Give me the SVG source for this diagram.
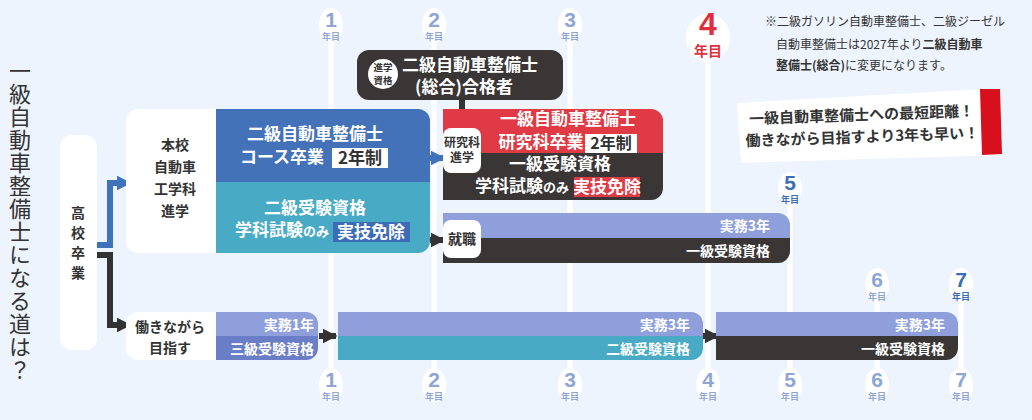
<svg xmlns="http://www.w3.org/2000/svg" width="1032" height="420" viewBox="0 0 1032 420">
<style>
text{font-family:"Noto Sans CJK JP","Noto Sans",sans-serif;font-weight:bold}
.w{fill:#fff}.d{fill:#333}
.yl{stroke:#fff;stroke-width:5}
.yn{font-size:21px;fill:#8ea6d6;text-anchor:middle;font-family:"Liberation Sans",sans-serif}
.ym{font-size:9px;fill:#8ea6d6;text-anchor:middle}
.m{font-size:17px;fill:#fff;text-anchor:middle}
.s{font-size:14px;fill:#fff;text-anchor:end}
.v{writing-mode:vertical-rl;text-orientation:upright}
</style>
<defs>
<marker id="ab" viewBox="0 0 10 10" refX="9" refY="5" markerWidth="2.5" markerHeight="2.5" orient="auto"><path d="M0,0L10,5L0,10z" fill="#3f72bb"/></marker>
<marker id="ad" viewBox="0 0 10 10" refX="9" refY="5" markerWidth="2.5" markerHeight="2.5" orient="auto"><path d="M0,0L10,5L0,10z" fill="#333"/></marker>
</defs>
<rect width="1032" height="420" fill="#eef4fd"/>
<text class="v" x="20" y="60" style="font-size:22px;font-weight:normal;letter-spacing:1px" fill="#333">一級自動車整備士になる道は？</text>
<g id="years">
<line class="yl" x1="331" y1="30" x2="331" y2="380"/><line class="yl" x1="434" y1="30" x2="434" y2="380"/><line class="yl" x1="570" y1="30" x2="570" y2="380"/><line class="yl" x1="708" y1="50" x2="708" y2="380"/><line class="yl" x1="790" y1="195" x2="790" y2="380"/><line class="yl" x1="877" y1="295" x2="877" y2="380"/><line class="yl" x1="961" y1="295" x2="961" y2="380"/>
<g fill="#fff"><ellipse cx="331" cy="25" rx="12" ry="17"/><ellipse cx="434" cy="25" rx="12" ry="17"/><ellipse cx="570" cy="25" rx="12" ry="17"/><ellipse cx="708" cy="38" rx="22" ry="24"/><ellipse cx="790" cy="188" rx="12" ry="16"/><ellipse cx="877" cy="285" rx="12" ry="17"/><ellipse cx="961" cy="285" rx="12" ry="17"/>
<ellipse cx="331" cy="385" rx="12" ry="17"/><ellipse cx="434" cy="385" rx="12" ry="17"/><ellipse cx="570" cy="385" rx="12" ry="17"/><ellipse cx="708" cy="385" rx="12" ry="17"/><ellipse cx="790" cy="385" rx="12" ry="17"/><ellipse cx="877" cy="385" rx="12" ry="17"/><ellipse cx="961" cy="385" rx="12" ry="17"/></g>
<text class="yn" x="331" y="27">1</text><text class="ym" x="331" y="40">年目</text>
<text class="yn" x="434" y="27">2</text><text class="ym" x="434" y="40">年目</text>
<text class="yn" x="570" y="27">3</text><text class="ym" x="570" y="40">年目</text>
<text class="yn" x="708" y="35" style="font-size:32px;fill:#e0303c">4</text><text class="ym" x="708" y="56" style="font-size:14px;fill:#e0303c">年目</text>
<text class="yn" x="790" y="190" style="fill:#3a6cb8">5</text><text class="ym" x="790" y="203" style="fill:#3a6cb8">年目</text>
<text class="yn" x="877" y="287">6</text><text class="ym" x="877" y="300">年目</text>
<text class="yn" x="961" y="287" style="fill:#3a6cb8">7</text><text class="ym" x="961" y="300" style="fill:#3a6cb8">年目</text>
<text class="yn" x="331" y="387">1</text><text class="ym" x="331" y="400">年目</text>
<text class="yn" x="434" y="387">2</text><text class="ym" x="434" y="400">年目</text>
<text class="yn" x="570" y="387">3</text><text class="ym" x="570" y="400">年目</text>
<text class="yn" x="708" y="387">4</text><text class="ym" x="708" y="400">年目</text>
<text class="yn" x="790" y="387">5</text><text class="ym" x="790" y="400">年目</text>
<text class="yn" x="877" y="387">6</text><text class="ym" x="877" y="400">年目</text>
<text class="yn" x="961" y="387">7</text><text class="ym" x="961" y="400">年目</text>
</g>
<g id="note" style="font-size:12px" fill="#333"><text x="765" y="26" style="font-weight:normal">※二級ガソリン自動車整備士、二級ジーゼル</text><text x="776" y="49" style="font-weight:normal">自動車整備士は2027年より<tspan font-weight="bold">二級自動車</tspan></text><text x="776" y="70">整備士(総合)<tspan font-weight="normal">に変更になります。</tspan></text></g>
<g id="banner"><path d="M737,103 L985,89 L1000,155 L741,163 Z" fill="#fff"/><path d="M980,89 L1000,89 L1002,154 L982,155 Z" fill="#d8101e"/>
<g transform="rotate(-2 868 128)"><text x="862" y="120" text-anchor="middle" font-size="15" fill="#333">一級自動車整備士への最短距離！</text><text x="862" y="142" text-anchor="middle" font-size="15" fill="#333">働きながら目指すより3年も早い！</text></g></g>
<g id="connectors" fill="none" stroke-width="6">
<path d="M97,245 H110 V183 H130" stroke="#3f72bb" marker-end="url(#ab)"/>
<path d="M97,255 H110 V325 H130" stroke="#333" marker-end="url(#ad)"/>
<path d="M430,158 H444" stroke="#3f72bb" marker-end="url(#ab)"/>
<path d="M430,240 H444" stroke="#333" marker-end="url(#ad)"/>
<path d="M462,100 V122" stroke="#333" marker-end="url(#ad)"/>
<path d="M319,336 H336" stroke="#333" marker-end="url(#ad)"/>
<path d="M703,336 H718" stroke="#333" marker-end="url(#ad)"/>
</g>
<g id="hs"><rect x="60" y="135" width="37" height="215" rx="12" fill="#fff"/><g font-size="14" text-anchor="middle" fill="#333"><text x="78" y="218">高</text><text x="78" y="238">校</text><text x="78" y="258">卒</text><text x="78" y="278">業</text></g></g>
<g id="honko">
<rect x="126" y="109" width="304" height="144" rx="12" fill="#fff"/>
<path d="M216,109 H418 a12,12 0 0 1 12,12 V182 H216Z" fill="#4472b8"/>
<path d="M216,182 H430 V241 a12,12 0 0 1 -12,12 H216Z" fill="#48aac4"/>
<g class="d" font-size="14" text-anchor="middle"><text x="175" y="150">本校</text><text x="175" y="172">自動車</text><text x="175" y="194">工学科</text><text x="175" y="216">進学</text></g>
<text class="m" x="315" y="140">二級自動車整備士</text>
<text class="m" x="282" y="163">コース卒業</text><rect x="332" y="148" width="56" height="20" fill="#fff"/><text x="360" y="164" class="m" style="fill:#333">2年制</text>
<text class="m" x="315" y="214">二級受験資格</text>
<text class="m" x="282" y="236">学科試験<tspan font-size="13">のみ</tspan></text><rect x="333" y="222" width="77" height="20" fill="#3c6cb8"/><text class="m" x="371" y="238">実技免除</text>
</g>
<g id="sougou"><rect x="357" y="50" width="206" height="50" rx="12" fill="#3a3636"/><circle cx="383" cy="74" r="15" fill="#fff"/><text x="383" y="71" font-size="9.5" text-anchor="middle" class="d">進学</text><text x="383" y="84" font-size="9.5" text-anchor="middle" class="d">資格</text>
<text class="m" x="470" y="71">二級自動車整備士</text><text class="m" x="464" y="93">(総合)合格者</text></g>
<g id="kenkyu">
<path d="M443,109 H651 a12,12 0 0 1 12,12 V153 H443Z" fill="#e03a45"/>
<path d="M443,153 H663 V188 a12,12 0 0 1 -12,12 H443Z" fill="#3a3636"/>
<rect x="443" y="128" width="38" height="45" rx="8" fill="#fff"/><text x="462" y="147" font-size="12" text-anchor="middle" class="d">研究科</text><text x="462" y="162" font-size="12" text-anchor="middle" class="d">進学</text>
<text class="m" x="568" y="125">一級自動車整備士</text>
<text class="m" x="541" y="148" font-size="16">研究科卒業</text><rect x="585" y="134" width="52" height="19" fill="#fff"/><text class="m" x="611" y="149" style="fill:#333;font-size:16px">2年制</text>
<text class="m" x="560" y="170">一級受験資格</text>
<text class="m" x="522" y="192">学科試験<tspan font-size="13">のみ</tspan></text><rect x="574" y="177" width="66" height="20" fill="#e03a45"/><text class="m" x="607" y="193">実技免除</text>
</g>
<g id="shushoku"><path d="M443,213 H778 a12,12 0 0 1 12,12 V238 H443Z" fill="#8e9fdc"/><path d="M443,238 H790 V251 a12,12 0 0 1 -12,12 H443Z" fill="#3a3636"/>
<rect x="443" y="220" width="38" height="38" rx="8" fill="#fff"/><text x="462" y="244" font-size="14" text-anchor="middle" class="d">就職</text>
<text class="s" x="770" y="231">実務3年</text><text class="s" x="770" y="256">一級受験資格</text></g>
<g id="hataraki"><rect x="126" y="312" width="100" height="48" rx="12" fill="#fff"/><text x="170" y="332" font-size="14" text-anchor="middle" class="d">働きながら</text><text x="170" y="353" font-size="14" text-anchor="middle" class="d">目指す</text>
<path d="M216,312 H306 a12,12 0 0 1 12,12 V336 H216Z" fill="#8e9fdc"/><path d="M216,336 H318 V348 a12,12 0 0 1 -12,12 H216Z" fill="#6a7ec8"/>
<text class="s" x="314" y="330">実務1年</text><text class="s" x="314" y="354">三級受験資格</text></g>
<g id="nikyu"><path d="M338,312 H691 a12,12 0 0 1 12,12 V336 H338Z" fill="#8e9fdc"/><path d="M338,336 H703 V348 a12,12 0 0 1 -12,12 H338Z" fill="#48aac4"/>
<text class="s" x="690" y="330">実務3年</text><text class="s" x="690" y="354">二級受験資格</text></g>
<g id="ikkyu"><path d="M716,312 H946 a12,12 0 0 1 12,12 V336 H716Z" fill="#8e9fdc"/><path d="M716,336 H958 V348 a12,12 0 0 1 -12,12 H716Z" fill="#3a3636"/>
<text class="s" x="945" y="330">実務3年</text><text class="s" x="945" y="354">一級受験資格</text></g>
</svg>
